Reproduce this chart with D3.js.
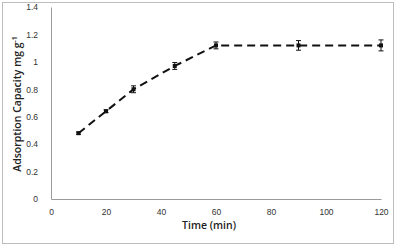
<!DOCTYPE html>
<html>
<head>
<meta charset="utf-8">
<script src="https://cdn.jsdelivr.net/npm/d3@7"></script>
<style>
  body { margin: 0; background: #fff; }
  svg { display: block; font-family: "Open Sans", "Liberation Sans", sans-serif; }
</style>
</head>
<body>
<svg id="chart"></svg>
<script>
// values
let times = [10, 20, 30, 45, 60, 90, 120]
let capacity = [0.48, 0.64, 0.80, 0.97, 1.12, 1.12, 1.12]
let errors = [0.008, 0.01, 0.025, 0.025, 0.025, 0.035, 0.04]
let xTicks = [0, 20, 40, 60, 80, 100, 120]
let yTicks = [0, 0.2, 0.4, 0.6, 0.8, 1, 1.2, 1.4]

let width = 396,
    height = 247,
    margin = {left: 51, right: 15, top: 7, bottom: 48}

let $svg = d3.select('#chart')
    .attr('width', width)
    .attr('height', height)

// outer chart frame
$svg.append('rect')
    .attr('x', 2.5).attr('y', 2.5)
    .attr('width', 391).attr('height', 241)
    .attr('fill', 'white')
    .attr('stroke', '#bdbdbd')

let x = d3.scaleLinear().domain([0, 120]).range([margin.left, width - margin.right])
let y = d3.scaleLinear().domain([0, 1.4]).range([height - margin.bottom, margin.top])

let axisColor = '#9a9a9a'

let xAxis = $svg.append('g')
    .attr('transform', 'translate(0,' + y(0) + ')')
    .call(d3.axisBottom(x).tickValues(xTicks).tickSize(0).tickPadding(10).tickFormat(d3.format('d')))
xAxis.select('.domain').attr('stroke', axisColor)
xAxis.selectAll('text').attr('font-size', 8.5).attr('fill', '#333')

let yAxis = $svg.append('g')
    .attr('transform', 'translate(' + x(0) + ',0)')
    .call(d3.axisLeft(y).tickValues(yTicks).tickSize(0).tickPadding(13).tickFormat(d => d3.format('')(+d.toFixed(1))))
yAxis.select('.domain').attr('stroke', axisColor)
yAxis.selectAll('text').attr('font-size', 8.5).attr('fill', '#333')

// axis titles
$svg.append('text')
    .attr('x', 209).attr('y', 229)
    .attr('text-anchor', 'middle')
    .attr('font-size', 10.5)
    .attr('font-weight', 600)
    .attr('fill', '#222')
    .text('Time (min)')

let yTitle = $svg.append('text')
    .attr('transform', 'translate(21,104) rotate(-90)')
    .attr('text-anchor', 'middle')
    .attr('font-size', 10.5)
    .attr('font-weight', 600)
    .attr('fill', '#222')
yTitle.append('tspan').text('Adsorption Capacity mg g')
yTitle.append('tspan').attr('font-size', 7).attr('dy', -4).text('-1')

let data = times.map((t, i) => ({t: t, v: capacity[i], e: errors[i]}))

let line = d3.line()
    .x(d => x(d.t))
    .y(d => y(d.v))

$svg.append('path')
    .datum(data)
    .attr('d', line)
    .attr('fill', 'none')
    .attr('stroke', '#111')
    .attr('stroke-width', 2)
    .attr('stroke-dasharray', '8,5')

// error bars
let bars = $svg.append('g').attr('stroke', '#111').attr('stroke-width', 1)
data.forEach(d => {
    bars.append('line')
        .attr('x1', x(d.t)).attr('x2', x(d.t))
        .attr('y1', y(d.v - d.e)).attr('y2', y(d.v + d.e))
    ;[d.v - d.e, d.v + d.e].forEach(v => {
        bars.append('line')
            .attr('x1', x(d.t) - 2.5).attr('x2', x(d.t) + 2.5)
            .attr('y1', y(v)).attr('y2', y(v))
    })
})

$svg.append('g').selectAll('rect')
    .data(data)
    .enter().append('rect')
    .attr('x', d => x(d.t) - 2)
    .attr('y', d => y(d.v) - 2)
    .attr('width', 4).attr('height', 4)
    .attr('fill', '#111')
</script>
</body>
</html>
